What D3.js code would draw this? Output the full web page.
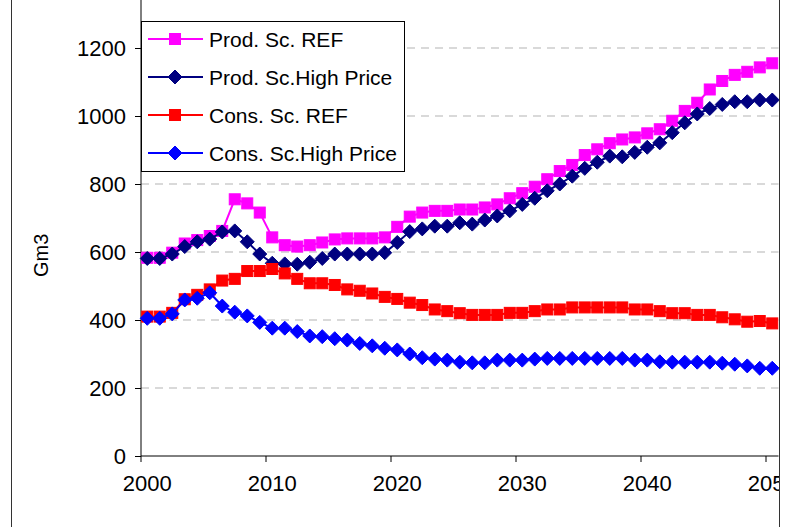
<!DOCTYPE html>
<html><head><meta charset="utf-8">
<script src="https://cdn.jsdelivr.net/npm/d3@7"></script>
<style>body{margin:0;background:#fff}svg{display:block}text{font-family:"Liberation Sans",Arial,sans-serif}</style>
</head><body>
<script>
const years = d3.range(2000, 2051);
const yTicks = [0, 200, 400, 600, 800, 1000, 1200];
const xTickLabels = [2000, 2010, 2020, 2030, 2040, 2050];
const seriesNames = ["Prod. Sc. REF", "Prod. Sc.High Price", "Cons. Sc. REF", "Cons. Sc.High Price"];
const prodRef = [583,583,598,625,635,647,662,755,743,716,643,620,616,620,628,637,640,640,640,643,674,704,716,721,721,725,725,731,740,758,773,792,814,838,856,885,902,920,931,937,949,961,986,1015,1039,1078,1103,1121,1130,1143,1155];
const prodHigh = [581,581,594,616,630,638,659,662,630,594,567,565,564,570,581,594,594,594,594,598,628,660,668,676,676,686,682,694,706,721,740,758,780,800,823,846,864,882,880,893,908,921,951,980,1006,1022,1034,1042,1042,1047,1047];
const consRef = [410,410,421,461,474,490,516,521,544,544,550,537,521,508,508,503,490,486,478,468,462,451,444,431,426,420,415,415,415,421,421,426,431,431,437,437,437,437,437,431,431,426,420,420,415,415,408,402,395,397,390];
const consHigh = [405,405,418,459,464,480,441,423,412,393,376,376,366,353,351,345,341,331,324,317,312,300,289,285,282,276,274,274,282,282,282,285,287,287,287,287,287,287,287,282,282,277,276,276,276,276,273,270,265,258,258];
const colors = ["#FF00FF", "#000080", "#FF0000", "#0000FF"];
const shapes = ["square", "diamond", "square", "diamond"];
const seriesData = [prodRef, prodHigh, consRef, consHigh];

const W = 796, H = 527;
const svg = d3.select("body").append("svg").attr("width", W).attr("height", H);

const x = d3.scaleBand().domain(years).range([141, 778.5]).padding(0);
const y = d3.scaleLinear().domain([0, 1400]).range([456, -20]);
const cx = d => x(d) + x.bandwidth() / 2;

// gridlines
svg.append("g").selectAll("line").data(yTicks.filter(v => v > 0)).join("line")
  .attr("x1", 141).attr("x2", 778.5).attr("y1", d => y(d)).attr("y2", d => y(d))
  .attr("stroke", "#b3b3b3").attr("stroke-width", 1).attr("stroke-dasharray", "8,6");

// y axis
const yAxis = svg.append("g").attr("transform", "translate(141,0)")
  .call(d3.axisLeft(y).tickValues(yTicks).tickFormat(d3.format("d")).tickSize(6).tickPadding(9));
yAxis.select(".domain").attr("stroke", "#000").attr("d", `M0,${y(1400)}V${y(0)}`);
yAxis.selectAll("text").attr("font-size", 22).attr("fill", "#000").style("font-family", "Liberation Sans, Arial, sans-serif");
yAxis.selectAll(".tick line").attr("stroke", "#000");

// x axis
const xAxis = svg.append("g").attr("transform", `translate(0,${y(0)})`)
  .call(d3.axisBottom(x).tickValues(xTickLabels).tickSize(0).tickPadding(19));
xAxis.select(".domain").attr("stroke", "#000").attr("d", `M141,0H778.5`);
xAxis.selectAll("text").attr("font-size", 22).attr("fill", "#000").style("font-family", "Liberation Sans, Arial, sans-serif");
svg.append("g").selectAll("line").data(xTickLabels).join("line")
  .attr("x1", d => x(d)).attr("x2", d => x(d)).attr("y1", y(0)).attr("y2", y(0) + 6)
  .attr("stroke", "#000");

// y label
svg.append("text").attr("transform", `translate(48,${y(590)}) rotate(-90)`)
  .attr("text-anchor", "middle").attr("font-size", 20).text("Gm3");

function marker(g, shape, color, px, py) {
  if (shape === "square") {
    g.append("rect").attr("x", px - 5.5).attr("y", py - 5.5).attr("width", 11).attr("height", 11)
      .attr("fill", color).attr("stroke", color).attr("stroke-width", 1);
  } else {
    g.append("path").attr("d", `M${px},${py - 7}L${px + 7},${py}L${px},${py + 7}L${px - 7},${py}Z`)
      .attr("fill", color).attr("stroke", color).attr("stroke-width", 1);
  }
}

const line = d3.line().x((d, i) => cx(years[i])).y(d => y(d));
seriesData.forEach((vals, si) => {
  const g = svg.append("g");
  g.append("path").datum(vals).attr("d", line).attr("fill", "none")
    .attr("stroke", colors[si]).attr("stroke-width", 2);
  vals.forEach((v, i) => marker(g, shapes[si], colors[si], cx(years[i]), y(v)));
});

// legend
const lg = svg.append("g");
lg.append("rect").attr("x", 141.5).attr("y", 21.5).attr("width", 263).attr("height", 150)
  .attr("fill", "#fff").attr("stroke", "#000").attr("stroke-width", 1);
const legendY = d3.scalePoint().domain(seriesNames).range([39, 153]);
seriesNames.forEach((n, i) => {
  const ly = legendY(n);
  lg.append("line").attr("x1", 148).attr("x2", 203).attr("y1", ly).attr("y2", ly)
    .attr("stroke", colors[i]).attr("stroke-width", 2);
  marker(lg, shapes[i], colors[i], 175, ly);
  lg.append("text").attr("x", 209).attr("y", ly).attr("dy", "0.36em").attr("font-size", 21).text(n);
});

// right crop edge
svg.append("rect").attr("x", 779.5).attr("y", 0).attr("width", W - 779.5).attr("height", H).attr("fill", "#fff");
svg.append("line").attr("x1", 779.5).attr("x2", 779.5).attr("y1", 0).attr("y2", H).attr("stroke", "#333");
svg.append("line").attr("x1", 11.5).attr("x2", 11.5).attr("y1", 0).attr("y2", H).attr("stroke", "#333");
</script>
</body></html>
